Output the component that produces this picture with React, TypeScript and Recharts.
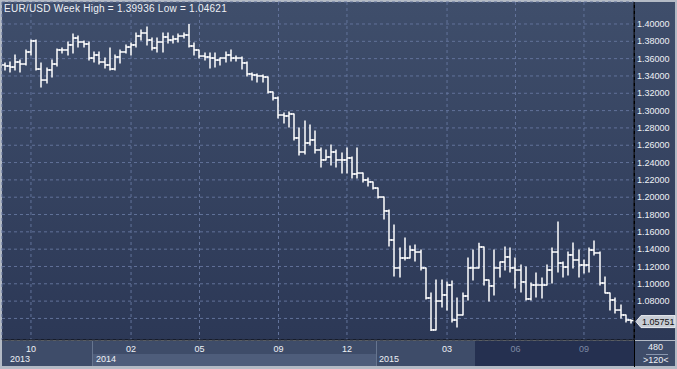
import React from 'react';
import { ComposedChart, Bar, XAxis, YAxis, CartesianGrid, ReferenceLine } from 'recharts';

// weekly EUR/USD bars
const opens = [
  1.3527, 1.3515, 1.3503, 1.3561, 1.3538, 1.3677, 1.3804, 1.3480, 1.3353, 1.3469,
  1.3538, 1.3700, 1.3700, 1.3758, 1.3838, 1.3792, 1.3769, 1.3607, 1.3642, 1.3561,
  1.3527, 1.3480, 1.3619, 1.3677, 1.3734, 1.3758, 1.3861, 1.3896, 1.3815, 1.3723,
  1.3792, 1.3850, 1.3815, 1.3827, 1.3861, 1.3873, 1.3746, 1.3700, 1.3630, 1.3619,
  1.3607, 1.3584, 1.3607, 1.3642, 1.3607, 1.3607, 1.3550, 1.3423, 1.3411, 1.3400,
  1.3388, 1.3215, 1.3145, 1.2949, 1.2938, 1.2961, 1.2684, 1.2522, 1.2626, 1.2661,
  1.2545, 1.2430, 1.2464, 1.2522, 1.2430, 1.2430, 1.2453, 1.2268, 1.2279, 1.2199,
  1.2176, 1.2106, 1.2002, 1.1841, 1.1506, 1.1183, 1.1298, 1.1298, 1.1390, 1.1367,
  1.1183, 1.0836, 1.0467, 1.0801, 1.0871, 1.0986, 1.0582, 1.0640, 1.0859, 1.1183,
  1.1183, 1.1425, 1.1044, 1.0975, 1.1183, 1.1252, 1.1310, 1.1183, 1.1159, 1.1021,
  1.0825, 1.0986, 1.0986, 1.0986, 1.1159, 1.1367, 1.1240, 1.1194, 1.1333, 1.1275,
  1.1217, 1.1217, 1.1390, 1.1356, 1.1009, 1.0894, 1.0813, 1.0697, 1.0640, 1.0582,
];
const highs = [
  1.3550, 1.3561, 1.3642, 1.3584, 1.3700, 1.3815, 1.3815, 1.3550, 1.3492, 1.3584,
  1.3711, 1.3723, 1.3792, 1.3885, 1.3861, 1.3804, 1.3792, 1.3677, 1.3677, 1.3607,
  1.3723, 1.3642, 1.3700, 1.3758, 1.3781, 1.3896, 1.3931, 1.3965, 1.3838, 1.3838,
  1.3896, 1.3896, 1.3861, 1.3885, 1.3896, 1.39936, 1.3781, 1.3700, 1.3665, 1.3665,
  1.3665, 1.3607, 1.3677, 1.3700, 1.3630, 1.3619, 1.3561, 1.3434, 1.3423, 1.3411,
  1.3388, 1.3215, 1.3157, 1.2972, 1.2984, 1.2961, 1.2799, 1.2880, 1.2834, 1.2764,
  1.2568, 1.2545, 1.2603, 1.2545, 1.2510, 1.2568, 1.2464, 1.2568, 1.2279, 1.2222,
  1.2176, 1.2106, 1.2002, 1.1852, 1.1679, 1.1413, 1.1529, 1.1437, 1.1448, 1.1390,
  1.1183, 1.0894, 1.1044, 1.1044, 1.1021, 1.1032, 1.0836, 1.0894, 1.1298, 1.1390,
  1.1467, 1.1425, 1.1044, 1.1390, 1.1252, 1.1425, 1.1413, 1.1298, 1.1217, 1.1194,
  1.1009, 1.1125, 1.1067, 1.1217, 1.1413, 1.1714, 1.1252, 1.1367, 1.1471, 1.1390,
  1.1275, 1.1413, 1.1494, 1.1367, 1.1079, 1.0894, 1.0836, 1.0755, 1.0640, 1.0582,
];
const lows = [
  1.3469, 1.3446, 1.3469, 1.3446, 1.3527, 1.3642, 1.3469, 1.3273, 1.3319, 1.3388,
  1.3515, 1.3665, 1.3642, 1.3665, 1.3734, 1.3734, 1.3584, 1.3561, 1.3538, 1.3492,
  1.3469, 1.3469, 1.3550, 1.3665, 1.3642, 1.3734, 1.3815, 1.3758, 1.3700, 1.3677,
  1.3677, 1.3781, 1.3781, 1.3792, 1.3838, 1.3734, 1.3642, 1.3607, 1.3584, 1.3492,
  1.3503, 1.3527, 1.3561, 1.3573, 1.3573, 1.3480, 1.3400, 1.3353, 1.3330, 1.3330,
  1.3203, 1.3122, 1.2915, 1.2857, 1.2811, 1.2661, 1.2487, 1.2499, 1.2603, 1.2510,
  1.2349, 1.2430, 1.2372, 1.2349, 1.2279, 1.2279, 1.2222, 1.2222, 1.2176, 1.2129,
  1.2095, 1.1991, 1.1748, 1.1437, 1.1090, 1.1079, 1.1275, 1.1298, 1.1263, 1.1159,
  1.0825, 1.04621, 1.0467, 1.0732, 1.0697, 1.0559, 1.0501, 1.0640, 1.0813, 1.1044,
  1.1183, 1.0986, 1.0801, 1.0871, 1.1079, 1.1159, 1.1136, 1.0952, 1.0905, 1.0813,
  1.0813, 1.0848, 1.0836, 1.0986, 1.1009, 1.1136, 1.1079, 1.1102, 1.1183, 1.1079,
  1.1125, 1.1136, 1.1333, 1.0986, 1.0894, 1.0697, 1.0663, 1.0605, 1.0559, 1.0547,
];
const closes = [
  1.3515, 1.3503, 1.3561, 1.3538, 1.3677, 1.3804, 1.3480, 1.3353, 1.3469, 1.3538,
  1.3700, 1.3700, 1.3758, 1.3838, 1.3792, 1.3769, 1.3607, 1.3642, 1.3561, 1.3527,
  1.3480, 1.3619, 1.3677, 1.3734, 1.3758, 1.3861, 1.3896, 1.3815, 1.3723, 1.3792,
  1.3850, 1.3815, 1.3827, 1.3861, 1.3873, 1.3746, 1.3700, 1.3630, 1.3619, 1.3607,
  1.3584, 1.3607, 1.3642, 1.3607, 1.3607, 1.3550, 1.3423, 1.3411, 1.3400, 1.3388,
  1.3215, 1.3145, 1.2949, 1.2938, 1.2961, 1.2684, 1.2522, 1.2626, 1.2661, 1.2545,
  1.2430, 1.2464, 1.2522, 1.2430, 1.2430, 1.2453, 1.2268, 1.2279, 1.2199, 1.2176,
  1.2106, 1.2002, 1.1841, 1.1506, 1.1183, 1.1298, 1.1298, 1.1390, 1.1367, 1.1183,
  1.0836, 1.0467, 1.0801, 1.0871, 1.0986, 1.0582, 1.0640, 1.0859, 1.1183, 1.1183,
  1.1425, 1.1044, 1.0975, 1.1183, 1.1252, 1.1310, 1.1183, 1.1159, 1.1021, 1.0825,
  1.0986, 1.0986, 1.0986, 1.1159, 1.1367, 1.1240, 1.1194, 1.1333, 1.1275, 1.1217,
  1.1217, 1.1390, 1.1356, 1.1009, 1.0894, 1.0813, 1.0697, 1.0640, 1.0582, 1.05751,
];

const monthTickIdx = [5, 24, 37, 52, 65, 84, 97, 110];
const monthTickLabels = ['10', '02', '05', '09', '12', '03', '06', '09'];
const priceTicks = [1.06, 1.08, 1.1, 1.12, 1.14, 1.16, 1.18, 1.2, 1.22, 1.24, 1.26, 1.28, 1.3, 1.32, 1.34, 1.36, 1.38, 1.4];
const title = 'EUR/USD Week High = 1.39936 Low = 1.04621';
const lastPrice = 1.05751;
const dimFromIdx = 90;

const data = closes.map((c, i) => ({
  i,
  range: [lows[i], highs[i]],
  open: opens[i],
  high: highs[i],
  low: lows[i],
  close: c,
}));

const FONT = '"Liberation Sans", Arial, sans-serif';
const TEXT = '#eef1f6';
const PANEL = '#3e4c69';

const OhlcShape = (props: any) => {
  const { x, y, width, height, payload } = props;
  const top = Math.min(y, y + height);
  const h = Math.abs(height);
  const span = payload.high - payload.low || 1e-6;
  const yOf = (v: number) => top + ((payload.high - v) / span) * h;
  const cx = Math.round(x + width / 2);
  return (
    <g stroke="#ffffff" strokeWidth={1.5}>
      <line x1={cx} x2={cx} y1={top - 0.5} y2={top + h + 0.5} />
      <line x1={cx - 3} x2={cx} y1={yOf(payload.open)} y2={yOf(payload.open)} />
      <line x1={cx} x2={cx + 3} y1={yOf(payload.close)} y2={yOf(payload.close)} />
    </g>
  );
};

const MonthTick = (props: any) => {
  const { x, y, payload } = props;
  const k = monthTickIdx.indexOf(payload.value);
  return (
    <text x={x} y={y + 12} textAnchor="middle" fontSize={9} fontFamily={FONT}
      fill={payload.value >= dimFromIdx ? '#7d89a3' : TEXT}>
      {monthTickLabels[k]}
    </text>
  );
};

const PriceTick = (props: any) => {
  const { x, y, payload } = props;
  if (Math.abs(payload.value - lastPrice) < 0.006) return <g />;
  return (
    <text x={x} y={y} dy="0.35em" textAnchor="start" fontSize={9} fontFamily={FONT} fill={TEXT}>
      {payload.value.toFixed(5)}
    </text>
  );
};

const PriceTag = (props: any) => {
  const { viewBox } = props;
  const x0 = viewBox.x + viewBox.width + 2;
  const yc = viewBox.y + 1;
  return (
    <g>
      <polygon
        points={`${x0},${yc} ${x0 + 5},${yc - 6} ${x0 + 39},${yc - 6} ${x0 + 39},${yc + 6} ${x0 + 5},${yc + 6}`}
        fill="#c7ccd5" stroke="#e9ecf0" strokeWidth={1}
      />
      <text x={x0 + 6} y={yc} dy="0.35em" fontSize={9} fontFamily={FONT} fill="#111">
        {lastPrice.toFixed(5)}
      </text>
    </g>
  );
};

const box = (left: number, top: number, width: number, height: number, background: string) => (
  <div style={{ position: 'absolute', left, top, width, height, background }} />
);

const label = (text: string, left: number, top: number, size = 9, spacing = 0) => (
  <div style={{ position: 'absolute', left, top, fontSize: size, letterSpacing: spacing, lineHeight: '11px', color: TEXT, fontFamily: FONT, whiteSpace: 'nowrap' }}>
    {text}
  </div>
);

export default function App() {
  return (
    <div style={{ position: 'absolute', left: 0, top: 0, width: 677, height: 369, background: '#b3bac5', overflow: 'hidden' }}>
      {box(2, 2, 632, 338, 'linear-gradient(#3f4e6b, #2c3856)')}
      {box(635, 2, 40, 338, 'linear-gradient(#3f4e6b, #2c3856)')}
      {/* time band */}
      {box(2, 341, 90, 25, PANEL)}
      {box(92, 341, 1, 25, '#66758f')}
      {box(93, 341, 283, 13, PANEL)}
      {box(93, 354, 283, 12, '#4e5d7b')}
      {box(376, 341, 1, 25, '#66758f')}
      {box(377, 341, 98, 25, PANEL)}
      {box(475, 341, 159, 25, '#253050')}
      {box(634, 2, 1, 365, '#000')}
      {box(635, 341, 40, 25, PANEL)}
      {box(646, 354, 22, 1, '#8996ae')}
      {label('2013', 10, 354)}
      {label('2014', 96, 354)}
      {label('2015', 379, 354)}
      {label('480', 648, 342)}
      {label('>120<', 643, 355)}
      <div style={{ position: 'absolute', left: 0, top: 0 }}>
        <ComposedChart width={677} height={369} data={data} margin={{ top: 2, left: 2, right: 0, bottom: 0 }}>
          <CartesianGrid stroke="#62729a" strokeDasharray="3 3" />
          <XAxis dataKey="i" type="category" ticks={monthTickIdx} interval={0} height={29}
            tickSize={0} tickMargin={0} tick={MonthTick}
            axisLine={{ stroke: '#000', strokeWidth: 1 }} />
          <YAxis orientation="right" width={43} domain={[1.0351, 1.4254]} ticks={priceTicks}
            interval={0} allowDataOverflow tickSize={0} tickMargin={3} tick={PriceTick}
            axisLine={{ stroke: '#000', strokeWidth: 1 }} />
          <Bar dataKey="range" shape={OhlcShape} isAnimationActive={false} />
          <ReferenceLine y={lastPrice} stroke="none" label={(p: any) => <PriceTag viewBox={p.viewBox} />} />
        </ComposedChart>
      </div>
      {label(title, 4, 3, 10, 0.25)}
    </div>
  );
}
